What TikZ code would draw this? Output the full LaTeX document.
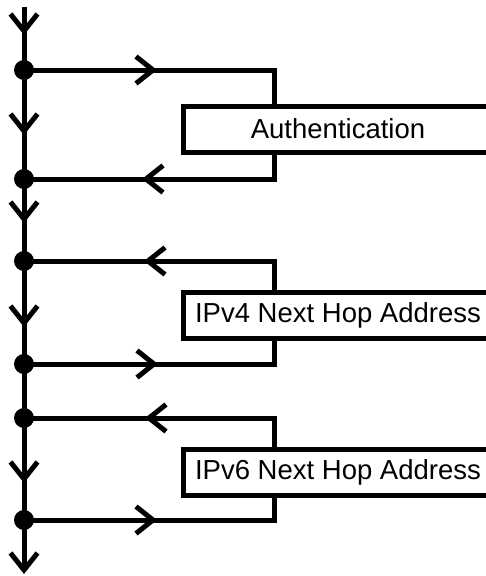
\documentclass[tikz,border=0pt]{standalone}
\usepackage{fontspec}
\setmainfont{Liberation Sans}
\usetikzlibrary{arrows.meta,decorations.markings}

\tikzset{
  barb/.tip={Straight Barb[length=17pt,width=27pt,line width=5pt]},
  wire/.style={line width=5pt,line join=miter},
  dot/.style={circle,fill=black,inner sep=0pt,minimum size=20pt},
  optbox/.style={draw,line width=5pt,minimum width=310pt,minimum height=46pt,
    inner sep=0pt,font=\fontsize{27.5}{33}\selectfont},
  fwd at/.style={postaction={decorate,decoration={markings,
    mark=at position #1 with {\arrow{barb}}}}},
  back at/.style={postaction={decorate,decoration={markings,
    mark=at position #1 with {\arrowreversed{barb}}}}},
}

\begin{document}
\begin{tikzpicture}[x=1pt,y=-1pt]
  \useasboundingbox (0,0) rectangle (486,576);
  \clip (0,0) rectangle (486,576);

  % junctions on the main line
  \node[dot] (d1) at (24,70) {};
  \node[dot] (d2) at (24,179) {};
  \node[dot] (d3) at (24,261) {};
  \node[dot] (d4) at (24,364) {};
  \node[dot] (d5) at (24,418) {};
  \node[dot] (d6) at (24,520) {};
  \coordinate (top) at (24,7);
  \coordinate (bottom) at (24,574);

  % option boxes
  \node[optbox] (auth) at (338,129) {Authentication};
  \node[optbox] (ipv4) at (338,315) {IPv4 Next Hop Address};
  \node[optbox] (ipv6) at (338,472) {IPv6 Next Hop Address};

  % loop corners
  \coordinate (c1) at (274,70);
  \coordinate (c2) at (274,179);
  \coordinate (c3) at (274,261);
  \coordinate (c4) at (274,364);
  \coordinate (c5) at (274,418);
  \coordinate (c6) at (274,520);

  % main line
  \draw[wire,-barb,
    postaction={decorate,decoration={markings,
      mark=at position 28pt with {\arrow{barb}},
      mark=at position 128pt with {\arrow{barb}},
      mark=at position 216pt with {\arrow{barb}},
      mark=at position 320pt with {\arrow{barb}},
      mark=at position 476pt with {\arrow{barb}}}}]
    (top) -- (bottom);

  % Authentication loop
  \draw[wire,fwd at=133pt] (d1.center) -- (c1) -- (auth.north -| c1);
  \draw[wire,back at=118pt] (d2.center) -- (c2) -- (auth.south -| c2);

  % IPv4 loop
  \draw[wire,back at=120pt] (d3.center) -- (c3) -- (ipv4.north -| c3);
  \draw[wire,fwd at=134pt] (d4.center) -- (c4) -- (ipv4.south -| c4);

  % IPv6 loop
  \draw[wire,back at=121pt] (d5.center) -- (c5) -- (ipv6.north -| c5);
  \draw[wire,fwd at=133pt] (d6.center) -- (c6) -- (ipv6.south -| c6);
\end{tikzpicture}
\end{document}
